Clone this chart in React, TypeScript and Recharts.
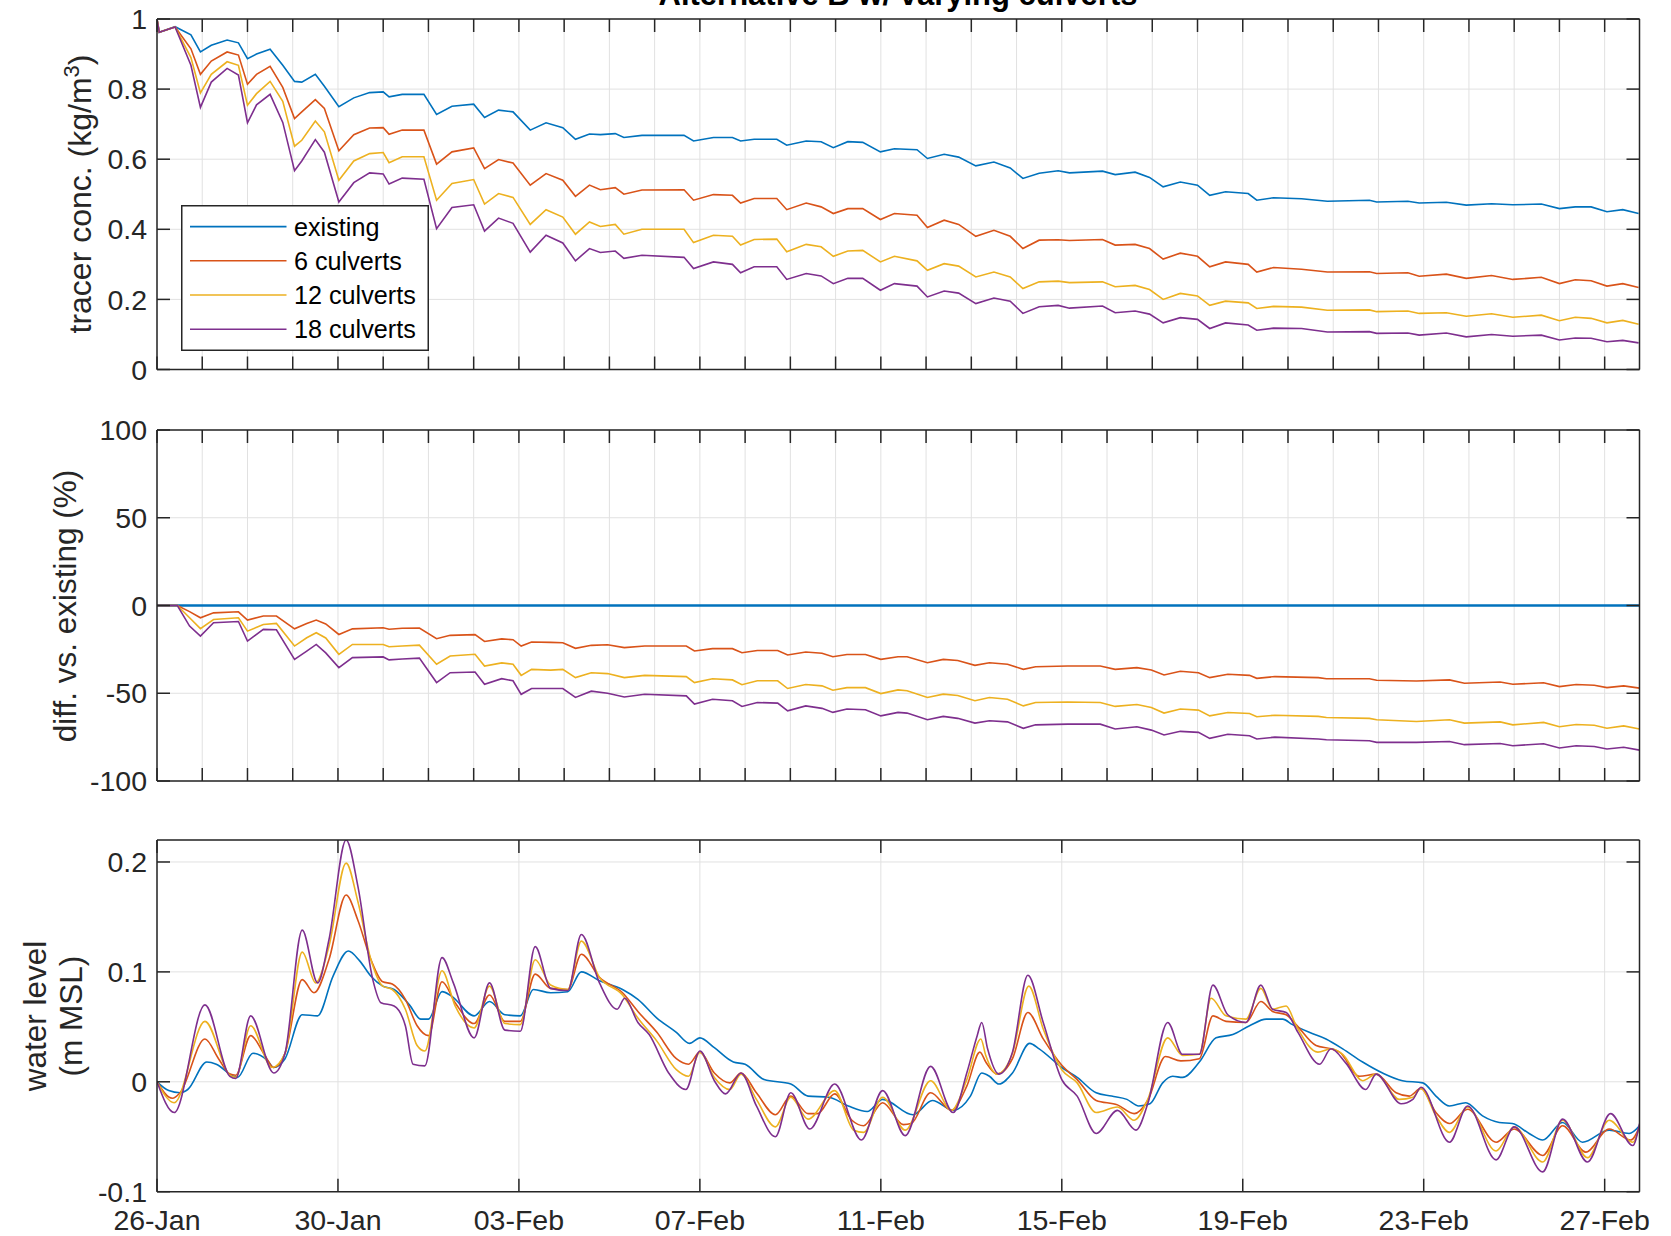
import React from 'react';
import { LineChart, Line, XAxis, YAxis, CartesianGrid, Legend } from 'recharts';

const FONT = "'Liberation Sans', Arial, Helvetica, sans-serif";
const X_MAX = 32.77;

// ---------- axis ticks / labels ----------
const dayTicks = [0,1,2,3,4,5,6,7,8,9,10,11,12,13,14,15,16,17,18,19,20,21,22,23,24,25,26,27,28,29,30,31,32];
const dateTicks = [0, 4, 8, 12, 16, 20, 24, 28, 32];
const dateLabels = ['26-Jan', '30-Jan', '03-Feb', '07-Feb', '11-Feb', '15-Feb', '19-Feb', '23-Feb', '27-Feb'];
const concTicks = [0, 0.2, 0.4, 0.6, 0.8, 1];
const diffTicks = [-100, -50, 0, 50, 100];
const wlTicks = [-0.1, 0, 0.1, 0.2];
const seriesNames = ['existing', '6 culverts', '12 culverts', '18 culverts'];
const seriesColors = ['#0072BD', '#D95319', '#EDB120', '#7E2F8E'];

// ---------- panel 1: tracer concentration (kg/m3), time in days since 26-Jan ----------
const concTime = [0,0.05,0.4,0.75,0.96,1.2,1.55,1.8,2.0,2.2,2.5,2.78,3.04,3.2,3.5,3.7,4.02,4.35,4.7,5.0,5.13,5.42,5.9,6.18,6.52,7.0,7.24,7.55,7.87,8.25,8.6,8.97,9.25,9.56,9.8,10.13,10.32,10.72,11.65,11.86,12.3,12.72,12.9,13.2,13.7,13.92,14.35,14.68,14.95,15.27,15.6,15.99,16.3,16.8,17.03,17.4,17.72,18.1,18.5,18.86,19.14,19.5,19.92,20.17,20.9,21.18,21.62,21.94,22.24,22.62,23.0,23.27,23.62,24.12,24.31,24.68,25.3,25.87,26.8,26.96,27.65,27.9,28.5,28.94,29.5,29.97,30.6,31.0,31.35,31.7,32.05,32.4,32.75];
const concExisting = [1.0,0.962,0.978,0.955,0.906,0.925,0.940,0.932,0.887,0.900,0.914,0.868,0.822,0.820,0.842,0.808,0.750,0.775,0.790,0.792,0.778,0.785,0.785,0.728,0.751,0.757,0.719,0.740,0.735,0.683,0.704,0.690,0.657,0.672,0.670,0.673,0.662,0.668,0.668,0.652,0.662,0.662,0.652,0.657,0.657,0.640,0.652,0.650,0.633,0.650,0.648,0.621,0.630,0.627,0.602,0.614,0.606,0.581,0.592,0.575,0.545,0.560,0.567,0.561,0.566,0.556,0.563,0.548,0.521,0.535,0.526,0.497,0.507,0.502,0.483,0.490,0.487,0.480,0.483,0.478,0.480,0.475,0.477,0.469,0.473,0.470,0.472,0.459,0.464,0.464,0.450,0.456,0.445];
const conc6 = [1.0,0.962,0.977,0.915,0.842,0.880,0.906,0.897,0.814,0.842,0.865,0.805,0.716,0.735,0.770,0.745,0.624,0.670,0.689,0.690,0.671,0.683,0.683,0.586,0.621,0.632,0.573,0.599,0.589,0.526,0.559,0.540,0.494,0.526,0.513,0.519,0.500,0.512,0.513,0.483,0.499,0.497,0.475,0.488,0.488,0.456,0.475,0.464,0.445,0.459,0.459,0.428,0.445,0.440,0.405,0.426,0.414,0.380,0.397,0.380,0.345,0.369,0.370,0.368,0.371,0.355,0.357,0.345,0.315,0.332,0.323,0.293,0.307,0.300,0.278,0.291,0.286,0.278,0.279,0.274,0.276,0.266,0.272,0.260,0.268,0.257,0.263,0.245,0.256,0.253,0.238,0.245,0.234];
const conc12 = [1.0,0.962,0.977,0.890,0.789,0.842,0.878,0.868,0.754,0.787,0.822,0.765,0.637,0.654,0.709,0.678,0.540,0.595,0.616,0.619,0.590,0.607,0.607,0.483,0.531,0.542,0.472,0.502,0.491,0.414,0.456,0.435,0.386,0.421,0.408,0.414,0.386,0.400,0.400,0.362,0.383,0.380,0.355,0.371,0.372,0.336,0.357,0.350,0.323,0.338,0.340,0.307,0.323,0.310,0.283,0.302,0.295,0.264,0.278,0.264,0.231,0.250,0.252,0.248,0.250,0.236,0.240,0.228,0.200,0.217,0.210,0.183,0.195,0.190,0.174,0.180,0.178,0.169,0.170,0.165,0.167,0.160,0.162,0.152,0.159,0.149,0.155,0.139,0.149,0.146,0.133,0.140,0.129];
const conc18 = [1.0,0.962,0.977,0.868,0.748,0.820,0.859,0.840,0.704,0.755,0.785,0.705,0.567,0.595,0.656,0.620,0.478,0.533,0.561,0.558,0.529,0.546,0.543,0.402,0.462,0.470,0.395,0.432,0.417,0.335,0.383,0.361,0.310,0.345,0.334,0.338,0.317,0.326,0.320,0.288,0.307,0.300,0.276,0.293,0.293,0.257,0.274,0.267,0.245,0.260,0.260,0.226,0.245,0.238,0.207,0.224,0.218,0.188,0.204,0.195,0.160,0.179,0.183,0.175,0.181,0.162,0.167,0.158,0.133,0.148,0.143,0.117,0.133,0.127,0.112,0.118,0.117,0.107,0.108,0.103,0.104,0.098,0.104,0.093,0.100,0.095,0.098,0.084,0.090,0.089,0.079,0.083,0.076];

// ---------- panel 2: difference vs existing (%) ----------
const diffTime = [0,0.45,0.72,0.96,1.25,1.8,2.0,2.35,2.64,3.04,3.31,3.52,3.73,4.02,4.32,5.0,5.13,5.42,5.8,6.18,6.48,7.03,7.24,7.62,7.87,8.05,8.28,8.7,8.97,9.25,9.6,9.96,10.33,10.78,11.7,11.88,12.28,12.72,12.93,13.27,13.72,13.94,14.34,14.7,14.94,15.25,15.66,16.0,16.38,16.58,17.03,17.38,17.7,18.08,18.4,18.8,19.15,19.42,20.13,20.85,21.18,21.66,21.98,22.26,22.62,23.02,23.27,23.67,24.15,24.31,24.71,25.67,25.85,26.8,26.96,27.84,28.57,28.9,29.69,29.97,30.65,31.0,31.37,31.77,32.05,32.42,32.77];
const diffExistingTime = [0, 32.77];
const diffExisting = [0, 0];
const diff6 = [0,0,-3.5,-7.0,-4.2,-3.6,-8.3,-6.0,-6.0,-13.3,-10.2,-8.3,-10.5,-16.5,-13.3,-12.7,-13.5,-13.0,-12.8,-18.9,-17.0,-16.6,-20.5,-19.0,-19.5,-23.1,-20.8,-21.0,-21.2,-24.4,-22.7,-22.4,-24.0,-23.1,-23.1,-25.9,-24.6,-24.6,-26.9,-25.6,-25.6,-28.2,-26.5,-27.2,-29.2,-27.9,-27.9,-30.7,-29.2,-29.2,-32.6,-30.7,-31.3,-34.1,-32.6,-33.5,-36.4,-34.9,-34.5,-34.5,-36.4,-35.4,-36.7,-39.6,-37.5,-38.3,-41.1,-39.2,-39.8,-41.5,-40.5,-41.1,-41.7,-41.7,-42.6,-43.0,-42.4,-44.3,-43.6,-44.9,-44.0,-46.2,-45.0,-45.4,-46.8,-45.8,-47.1];
const diff12 = [0,0,-7.0,-13.2,-8.0,-7.0,-14.6,-10.8,-10.2,-23.1,-18.4,-15.5,-18.5,-27.8,-22.2,-22.2,-23.5,-23.1,-22.6,-33.5,-28.8,-27.8,-34.5,-32.7,-33.5,-39.8,-36.4,-36.8,-36.4,-41.1,-38.3,-38.8,-41.1,-39.8,-40.5,-43.9,-41.7,-42.4,-45.1,-42.9,-42.9,-47.3,-45.0,-45.8,-48.3,-46.8,-46.8,-50.2,-48.1,-48.6,-52.4,-50.5,-51.3,-54.3,-52.4,-53.4,-57.2,-55.3,-55.0,-55.3,-57.5,-56.4,-58.1,-61.3,-59.0,-59.6,-62.9,-61.0,-61.5,-63.4,-62.5,-63.2,-63.8,-64.3,-65.1,-66.1,-65.1,-67.0,-66.3,-68.0,-66.6,-69.1,-67.8,-68.2,-69.9,-68.6,-70.4];
const diff18 = [0,0,-11.7,-17.4,-9.8,-9.1,-20.3,-13.6,-13.8,-30.7,-26.0,-22.2,-27.0,-35.4,-29.7,-29.3,-31.0,-30.5,-30.0,-43.9,-38.3,-37.9,-44.9,-41.7,-42.9,-50.6,-47.3,-47.3,-47.3,-52.4,-48.8,-50.0,-52.1,-50.6,-51.5,-56.2,-53.4,-54.3,-57.5,-55.3,-55.6,-60.0,-57.2,-58.6,-60.9,-59.0,-59.4,-62.9,-60.9,-61.3,-65.1,-63.2,-64.3,-67.0,-65.7,-66.3,-70.0,-68.0,-67.6,-67.6,-70.4,-69.1,-71.0,-73.8,-71.7,-72.3,-75.7,-73.4,-74.2,-76.1,-75.0,-76.1,-76.5,-77.1,-78.0,-78.0,-77.5,-79.3,-78.6,-79.9,-78.8,-81.2,-79.9,-80.3,-81.8,-80.8,-82.4];

// ---------- panel 3: water level (m MSL), [day, value] ----------
const wlExisting: [number, number][] = [[0,0],[0.26,-0.008],[0.51,-0.010],[0.68,-0.007],[1.1,0.018],[1.31,0.016],[1.69,0.005],[1.78,0.004],[2.12,0.026],[2.45,0.019],[2.58,0.013],[2.83,0.021],[3.21,0.061],[3.55,0.060],[3.89,0.096],[4.23,0.119],[4.48,0.110],[4.73,0.096],[4.99,0.087],[5.24,0.084],[5.58,0.070],[5.83,0.057],[6.0,0.057],[6.3,0.082],[6.51,0.078],[7.01,0.060],[7.35,0.073],[7.69,0.061],[8.03,0.060],[8.32,0.084],[8.7,0.081],[9.08,0.082],[9.38,0.100],[9.78,0.092],[10.29,0.084],[10.63,0.075],[11.05,0.058],[11.48,0.045],[11.77,0.035],[12.0,0.040],[12.32,0.031],[12.74,0.018],[13.0,0.016],[13.42,0.002],[14.01,-0.002],[14.39,-0.013],[14.85,-0.014],[15.28,-0.022],[15.7,-0.027],[16.04,-0.016],[16.71,-0.030],[17.14,-0.017],[17.6,-0.026],[17.98,-0.013],[18.23,0.008],[18.4,0.005],[18.61,-0.002],[18.91,0.008],[19.29,0.035],[19.5,0.030],[20.0,0.013],[20.34,0.004],[20.76,-0.010],[21.1,-0.013],[21.44,-0.016],[21.7,-0.022],[21.95,-0.020],[22.23,-0.001],[22.45,0.005],[22.67,0.004],[23.04,0.018],[23.41,0.040],[23.78,0.043],[24.15,0.051],[24.52,0.057],[24.88,0.057],[25.1,0.052],[25.47,0.045],[25.84,0.039],[26.21,0.030],[26.65,0.018],[27.09,0.008],[27.53,0.001],[27.98,-0.001],[28.27,-0.013],[28.57,-0.022],[28.93,-0.019],[29.3,-0.031],[29.67,-0.037],[29.96,-0.038],[30.33,-0.047],[30.63,-0.053],[31.07,-0.037],[31.51,-0.055],[32.1,-0.044],[32.54,-0.047],[32.77,-0.040]];
const wl6: [number, number][] = [[0,0],[0.34,-0.015],[0.51,-0.010],[1.06,0.039],[1.36,0.021],[1.61,0.007],[1.74,0.006],[2.07,0.042],[2.37,0.025],[2.58,0.013],[2.83,0.026],[3.21,0.093],[3.47,0.081],[3.8,0.111],[4.18,0.170],[4.44,0.147],[4.73,0.111],[4.99,0.091],[5.2,0.089],[5.49,0.075],[5.75,0.051],[6.0,0.042],[6.3,0.091],[6.59,0.072],[7.01,0.053],[7.35,0.079],[7.69,0.055],[8.03,0.055],[8.36,0.098],[8.7,0.085],[9.08,0.084],[9.38,0.116],[9.78,0.095],[10.29,0.081],[10.63,0.064],[11.05,0.045],[11.48,0.021],[11.75,0.016],[12.0,0.027],[12.32,0.008],[12.66,-0.001],[12.91,0.008],[13.25,-0.010],[13.67,-0.030],[14.01,-0.013],[14.39,-0.029],[14.6,-0.029],[14.98,-0.011],[15.36,-0.035],[15.62,-0.040],[16.04,-0.019],[16.5,-0.039],[16.67,-0.038],[17.1,-0.010],[17.56,-0.026],[17.9,-0.004],[18.19,0.027],[18.32,0.018],[18.57,0.007],[18.91,0.021],[19.25,0.063],[19.59,0.039],[20.0,0.015],[20.34,0.002],[20.76,-0.017],[21.23,-0.021],[21.6,-0.029],[21.9,-0.017],[22.29,0.023],[22.63,0.019],[23.04,0.021],[23.34,0.060],[23.63,0.055],[24.07,0.054],[24.4,0.073],[24.66,0.064],[24.96,0.061],[25.18,0.052],[25.62,0.033],[25.95,0.030],[26.14,0.027],[26.58,0.005],[26.95,0.007],[27.39,-0.010],[27.68,-0.013],[27.94,-0.006],[28.27,-0.028],[28.57,-0.038],[28.97,-0.025],[29.6,-0.055],[30.0,-0.043],[30.63,-0.067],[31.07,-0.040],[31.58,-0.064],[32.1,-0.043],[32.58,-0.053],[32.77,-0.041]];
const wl12: [number, number][] = [[0,0],[0.38,-0.019],[1.06,0.055],[1.61,0.006],[1.74,0.004],[2.07,0.051],[2.54,0.013],[2.83,0.026],[3.21,0.118],[3.51,0.090],[3.8,0.123],[4.18,0.199],[4.44,0.164],[4.73,0.111],[4.99,0.087],[5.2,0.084],[5.49,0.066],[5.75,0.033],[5.92,0.028],[6.3,0.101],[6.59,0.069],[7.01,0.049],[7.35,0.087],[7.69,0.053],[8.03,0.052],[8.36,0.111],[8.7,0.088],[9.08,0.084],[9.38,0.128],[9.78,0.095],[10.29,0.079],[10.63,0.058],[11.05,0.037],[11.48,0.011],[11.75,0.005],[12.0,0.027],[12.32,0.004],[12.66,-0.007],[12.91,0.007],[13.25,-0.016],[13.67,-0.041],[14.01,-0.014],[14.39,-0.034],[14.98,-0.008],[15.4,-0.044],[15.62,-0.046],[16.04,-0.014],[16.54,-0.044],[17.1,0.001],[17.56,-0.026],[17.9,0.002],[18.21,0.039],[18.32,0.024],[18.57,0.007],[18.91,0.026],[19.27,0.087],[19.59,0.048],[20.0,0.011],[20.34,-0.001],[20.76,-0.028],[21.23,-0.023],[21.6,-0.035],[21.9,-0.016],[22.34,0.040],[22.67,0.024],[23.04,0.025],[23.3,0.076],[23.63,0.060],[24.07,0.057],[24.4,0.085],[24.66,0.066],[24.96,0.069],[25.18,0.051],[25.66,0.027],[25.95,0.030],[26.21,0.025],[26.65,0.001],[26.95,0.007],[27.46,-0.016],[27.76,-0.014],[27.94,-0.006],[28.27,-0.031],[28.57,-0.046],[28.97,-0.023],[29.6,-0.063],[30.0,-0.041],[30.63,-0.073],[31.07,-0.035],[31.62,-0.069],[32.1,-0.035],[32.62,-0.055],[32.77,-0.041]];
const wl18: [number, number][] = [[0,0],[0.38,-0.028],[1.06,0.070],[1.61,0.005],[1.74,0.003],[2.07,0.060],[2.58,0.008],[2.83,0.026],[3.21,0.138],[3.55,0.090],[3.8,0.129],[4.18,0.220],[4.44,0.178],[4.77,0.093],[4.95,0.072],[5.24,0.069],[5.49,0.051],[5.66,0.016],[5.92,0.0145],[6.3,0.113],[6.55,0.090],[7.01,0.040],[7.35,0.090],[7.69,0.047],[8.03,0.046],[8.36,0.123],[8.7,0.085],[9.08,0.083],[9.38,0.134],[9.78,0.090],[10.17,0.066],[10.34,0.076],[10.63,0.054],[10.88,0.043],[11.31,0.008],[11.69,-0.007],[12.0,0.028],[12.32,0.001],[12.57,-0.011],[12.91,0.008],[13.25,-0.022],[13.67,-0.050],[14.01,-0.010],[14.43,-0.043],[14.98,-0.002],[15.57,-0.053],[16.04,-0.008],[16.54,-0.049],[17.1,0.014],[17.6,-0.028],[17.9,0.008],[18.13,0.042],[18.23,0.054],[18.36,0.030],[18.61,0.007],[18.91,0.027],[19.25,0.097],[19.59,0.054],[20.0,0.002],[20.34,-0.013],[20.76,-0.047],[21.23,-0.026],[21.64,-0.044],[21.9,-0.020],[22.34,0.054],[22.67,0.025],[23.04,0.025],[23.34,0.088],[23.67,0.061],[24.07,0.054],[24.4,0.088],[24.66,0.066],[24.96,0.063],[25.22,0.045],[25.7,0.016],[25.95,0.030],[26.28,0.017],[26.72,-0.007],[26.95,0.007],[27.5,-0.020],[27.76,-0.016],[27.94,-0.005],[28.57,-0.055],[28.97,-0.022],[29.6,-0.071],[30.0,-0.041],[30.63,-0.082],[31.07,-0.034],[31.62,-0.073],[32.13,-0.029],[32.62,-0.058],[32.77,-0.038]];

// ---------- helpers ----------
const zip = (ts: number[], vs: number[]) => ts.map((t, i) => ({ t, v: vs[i] }));
const pairs = (p: [number, number][]) => p.map(([t, v]) => ({ t, v }));

const AXIS_COLOR = '#262626';
const GRID_COLOR = '#e1e1e1';
const tickStyle = { fontSize: 28.5, fill: AXIS_COLOR, fontFamily: FONT };
const axisLine = { stroke: AXIS_COLOR, strokeWidth: 1.5 };
const tickLine = { stroke: AXIS_COLOR, strokeWidth: 1.5 };
const MARGIN_LEFT = 57;
const MARGIN_RIGHT = 30.5;
const EmptyTick = () => <g />;

const legendRowY = [21.6, 55.8, 90, 124.3];
const renderLegend = (props: any) => {
  const items = [...(props.payload || [])].sort(
    (a: any, b: any) => seriesNames.indexOf(a.value) - seriesNames.indexOf(b.value)
  );
  return (
    <svg width={248} height={146} style={{ display: 'block' }}>
      <rect x={0.75} y={0.75} width={246.5} height={144.5} fill="#fff" stroke={AXIS_COLOR} strokeWidth={1.5} />
      {items.map((it: any, i: number) => (
        <g key={i}>
          <line x1={9} x2={105.5} y1={legendRowY[i]} y2={legendRowY[i]} stroke={it.color} strokeWidth={1.6} />
          <text x={113} y={legendRowY[i]} dominantBaseline="central" fontSize={25.2} fill="#000" fontFamily={FONT}>
            {it.value}
          </text>
        </g>
      ))}
    </svg>
  );
};

const dateFmt = (v: number) => {
  const i = dateTicks.indexOf(v);
  return i >= 0 ? dateLabels[i] : '';
};

function axes(xTicks: number[], yDomain: [number, number], yTicks: number[], showDates: boolean, bottomHeight: number) {
  return [
    <CartesianGrid key="grid" stroke={GRID_COLOR} strokeWidth={1} />,
    <XAxis
      key="xb"
      dataKey="t"
      type="number"
      domain={[0, X_MAX]}
      allowDataOverflow
      ticks={xTicks}
      interval={0}
      height={bottomHeight}
      tick={showDates ? tickStyle : EmptyTick}
      tickFormatter={dateFmt}
      tickSize={-13}
      tickMargin={31}
      axisLine={axisLine}
      tickLine={tickLine}
    />,
    <XAxis
      key="xt"
      xAxisId="top"
      orientation="top"
      dataKey="t"
      type="number"
      domain={[0, X_MAX]}
      allowDataOverflow
      ticks={xTicks}
      interval={0}
      height={1}
      tick={EmptyTick}
      tickSize={-13}
      axisLine={axisLine}
      tickLine={tickLine}
    />,
    <YAxis
      key="yl"
      type="number"
      domain={yDomain}
      allowDataOverflow
      ticks={yTicks}
      interval={0}
      width={100}
      tick={tickStyle}
      tickSize={-13}
      tickMargin={23}
      axisLine={axisLine}
      tickLine={tickLine}
    />,
    <YAxis
      key="yr"
      yAxisId="right"
      orientation="right"
      type="number"
      domain={yDomain}
      allowDataOverflow
      ticks={yTicks}
      interval={0}
      width={1}
      tick={EmptyTick}
      tickSize={-13}
      axisLine={axisLine}
      tickLine={tickLine}
    />,
  ];
}

export default function App() {
  const concSeries = [concExisting, conc6, conc12, conc18];
  const diffSeries = [
    zip(diffExistingTime, diffExisting),
    zip(diffTime, diff6),
    zip(diffTime, diff12),
    zip(diffTime, diff18),
  ];
  const wlSeries = [wlExisting, wl6, wl12, wl18];

  return (
    <div style={{ position: 'absolute', left: 0, top: 0, width: 1671, height: 1236, background: '#fff', overflow: 'hidden', fontFamily: FONT }}>
      {/* Panel 1 */}
      <div style={{ position: 'absolute', left: 0, top: 0 }}>
        <LineChart width={1671} height={400} margin={{ top: 18, right: MARGIN_RIGHT, bottom: 29.5, left: MARGIN_LEFT }}>
          {axes(dayTicks, [0, 1], concTicks, false, 1)}
          {concSeries.map((vals, i) => (
            <Line
              key={i}
              data={zip(concTime, vals)}
              dataKey="v"
              name={seriesNames[i]}
              stroke={seriesColors[i]}
              strokeWidth={1.6}
              dot={false}
              type="linear"
              isAnimationActive={false}
            />
          ))}
          <Legend
            layout="vertical"
            align="center"
            verticalAlign="middle"
            content={renderLegend}
            wrapperStyle={{ left: 181, top: 205, width: 248, height: 146 }}
          />
        </LineChart>
      </div>

      {/* Panel 2 */}
      <div style={{ position: 'absolute', left: 0, top: 400 }}>
        <LineChart width={1671} height={400} margin={{ top: 29, right: MARGIN_RIGHT, bottom: 18, left: MARGIN_LEFT }}>
          {axes(dayTicks, [-100, 100], diffTicks, false, 1)}
          {diffSeries.map((d, i) => (
            <Line
              key={i}
              data={d}
              dataKey="v"
              name={seriesNames[i]}
              stroke={seriesColors[i]}
              strokeWidth={i === 0 ? 2.6 : 1.6}
              dot={false}
              type="linear"
              isAnimationActive={false}
            />
          ))}
        </LineChart>
      </div>

      {/* Panel 3 */}
      <div style={{ position: 'absolute', left: 0, top: 800 }}>
        <LineChart width={1671} height={436} margin={{ top: 39, right: MARGIN_RIGHT, bottom: 4.3, left: MARGIN_LEFT }}>
          {axes(dateTicks, [-0.1, 0.22], wlTicks, true, 40)}
          {wlSeries.map((p, i) => (
            <Line
              key={i}
              data={pairs(p)}
              dataKey="v"
              name={seriesNames[i]}
              stroke={seriesColors[i]}
              strokeWidth={1.6}
              dot={false}
              type="monotone"
              isAnimationActive={false}
            />
          ))}
        </LineChart>
      </div>

      {/* Title and y-axis labels */}
      <svg width={1671} height={1236} style={{ position: 'absolute', left: 0, top: 0, pointerEvents: 'none' }}>
        <text x={898} y={5} textAnchor="middle" fontSize={31} fontWeight="bold" fill="#000" fontFamily={FONT}>
          Alternative B w/ varying culverts
        </text>
        <text x={91} y={194} textAnchor="middle" fontSize={32} fill={AXIS_COLOR} fontFamily={FONT} transform="rotate(-90 91 194)">
          tracer conc. (kg/m<tspan dy={-12} fontSize={22}>3</tspan><tspan dy={12}>)</tspan>
        </text>
        <text x={76} y={606} textAnchor="middle" fontSize={31.5} fill={AXIS_COLOR} fontFamily={FONT} transform="rotate(-90 76 606)">
          diff. vs. existing (%)
        </text>
        <text x={46} y={1016} textAnchor="middle" fontSize={31.5} fill={AXIS_COLOR} fontFamily={FONT} transform="rotate(-90 46 1016)">
          water level
        </text>
        <text x={82} y={1016} textAnchor="middle" fontSize={31.5} fill={AXIS_COLOR} fontFamily={FONT} transform="rotate(-90 82 1016)">
          (m MSL)
        </text>
      </svg>
    </div>
  );
}
